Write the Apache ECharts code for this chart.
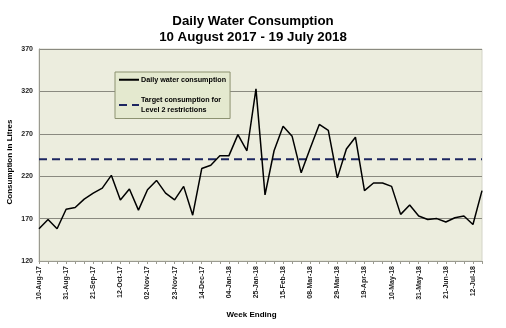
<!DOCTYPE html>
<html>
<head>
<meta charset="utf-8">
<script src="https://cdn.jsdelivr.net/npm/echarts@6/dist/echarts.min.js"></script>
<style>
  html, body { margin: 0; padding: 0; background: #ffffff; }
  #chart { width: 506px; height: 328px; }
</style>
</head>
<body>
<div id="chart"></div>
<script>
// Week-ending dates (weekly, Thursday)
var weeks = [
  '10-Aug-17','17-Aug-17','24-Aug-17','31-Aug-17','07-Sep-17','14-Sep-17','21-Sep-17','28-Sep-17',
  '05-Oct-17','12-Oct-17','19-Oct-17','26-Oct-17','02-Nov-17','09-Nov-17','16-Nov-17','23-Nov-17',
  '30-Nov-17','07-Dec-17','14-Dec-17','21-Dec-17','28-Dec-17','04-Jan-18','11-Jan-18','18-Jan-18',
  '25-Jan-18','01-Feb-18','08-Feb-18','15-Feb-18','22-Feb-18','01-Mar-18','08-Mar-18','15-Mar-18',
  '22-Mar-18','29-Mar-18','05-Apr-18','12-Apr-18','19-Apr-18','26-Apr-18','03-May-18','10-May-18',
  '17-May-18','24-May-18','31-May-18','07-Jun-18','14-Jun-18','21-Jun-18','28-Jun-18','05-Jul-18',
  '12-Jul-18','19-Jul-18'
];

// Daily water consumption, litres
var consumption = [
  158, 169, 158, 181, 183, 193, 200, 206,
  221, 192, 205, 180, 204, 215, 200, 192,
  208, 174, 229, 233, 244, 244, 269, 250,
  323, 198, 250, 279, 267, 224, 253, 281,
  274, 218, 252, 266, 203, 212, 212, 208,
  175, 186, 173, 169, 170, 166, 171, 173,
  163, 203
];

// Level 2 restriction target, litres per day
var targetLevel = 240;
var target = weeks.map(function () { return targetLevel; });

var yTicks = { min: 120, max: 370, interval: 50 };

var seriesNames = ['Daily water consumption', 'Target consumption for\nLevel 2 restrictions'];
var titleLines = ['Daily Water Consumption', '10 August 2017 - 19 July 2018'];

var font = 'Liberation Sans, Arial, sans-serif';

var chart = echarts.init(document.getElementById('chart'), null, { renderer: 'canvas' });

chart.setOption({
  animation: false,
  backgroundColor: '#ffffff',
  title: {
    text: titleLines.join('\n'),
    left: 'center',
    top: 8,
    textStyle: {
      fontFamily: font,
      fontSize: 13.3,
      fontWeight: 'bold',
      color: '#000000',
      lineHeight: 16
    }
  },
  grid: {
    left: 39,
    right: 24,
    top: 49,
    bottom: 67,
    outerBoundsMode: 'none',
    containLabel: false,
    show: true,
    backgroundColor: '#ecedde',
    borderColor: '#d4d4c8',
    borderWidth: 1
  },
  legend: {
    left: 115,
    top: 72,
    orient: 'vertical',
    padding: [3, 4, 4, 3],
    itemGap: 11,
    itemWidth: 20,
    itemHeight: 8,
    backgroundColor: '#e4e9cf',
    borderColor: '#8c9270',
    borderWidth: 1,
    data: seriesNames,
    itemStyle: { opacity: 0 },
    textStyle: {
      fontFamily: font,
      fontSize: 7.2,
      fontWeight: 'bold',
      color: '#000000',
      lineHeight: 9.5,
      padding: [0, 0, 0, -3]
    }
  },
  xAxis: {
    type: 'category',
    data: weeks,
    boundaryGap: false,
    name: 'Week Ending',
    nameLocation: 'middle',
    nameGap: 50,
    nameMoveOverlap: false,
    nameTextStyle: {
      fontFamily: font,
      fontSize: 8,
      fontWeight: 'bold',
      color: '#000000',
      padding: [0, 18, 0, 0]
    },
    axisLine: { lineStyle: { color: '#9a9a90', width: 1 } },
    axisTick: {
      show: true,
      interval: 0,
      length: 3,
      lineStyle: { color: '#9a9a90' }
    },
    axisLabel: {
      interval: 2,
      rotate: 90,
      margin: 5,
      fontFamily: font,
      fontSize: 7,
      fontWeight: 'bold',
      color: '#222222'
    },
    splitLine: { show: false }
  },
  yAxis: {
    type: 'value',
    min: yTicks.min,
    max: yTicks.max,
    interval: yTicks.interval,
    name: 'Consumption in Litres',
    nameLocation: 'middle',
    nameGap: 25,
    nameMoveOverlap: false,
    nameTextStyle: {
      fontFamily: font,
      fontSize: 8,
      fontWeight: 'bold',
      color: '#000000',
      padding: [0, 14, 0, 0]
    },
    axisLine: { show: true, lineStyle: { color: '#9a9a90', width: 1 } },
    axisTick: { show: false },
    axisLabel: {
      margin: 6,
      fontFamily: font,
      fontSize: 7,
      fontWeight: 'bold',
      color: '#222222'
    },
    splitLine: { show: true, lineStyle: { color: '#8a8a80', width: 1 } }
  },
  series: [
    {
      name: seriesNames[0],
      type: 'line',
      data: consumption,
      symbol: 'none',
      lineStyle: { color: '#000000', width: 1.5 },
      itemStyle: { color: '#000000' },
      z: 3
    },
    {
      name: seriesNames[1],
      type: 'line',
      data: target,
      symbol: 'none',
      lineStyle: { color: '#1c2660', width: 2, type: [8, 5] },
      itemStyle: { color: '#1c2660' },
      z: 2
    }
  ]
});
</script>
</body>
</html>
